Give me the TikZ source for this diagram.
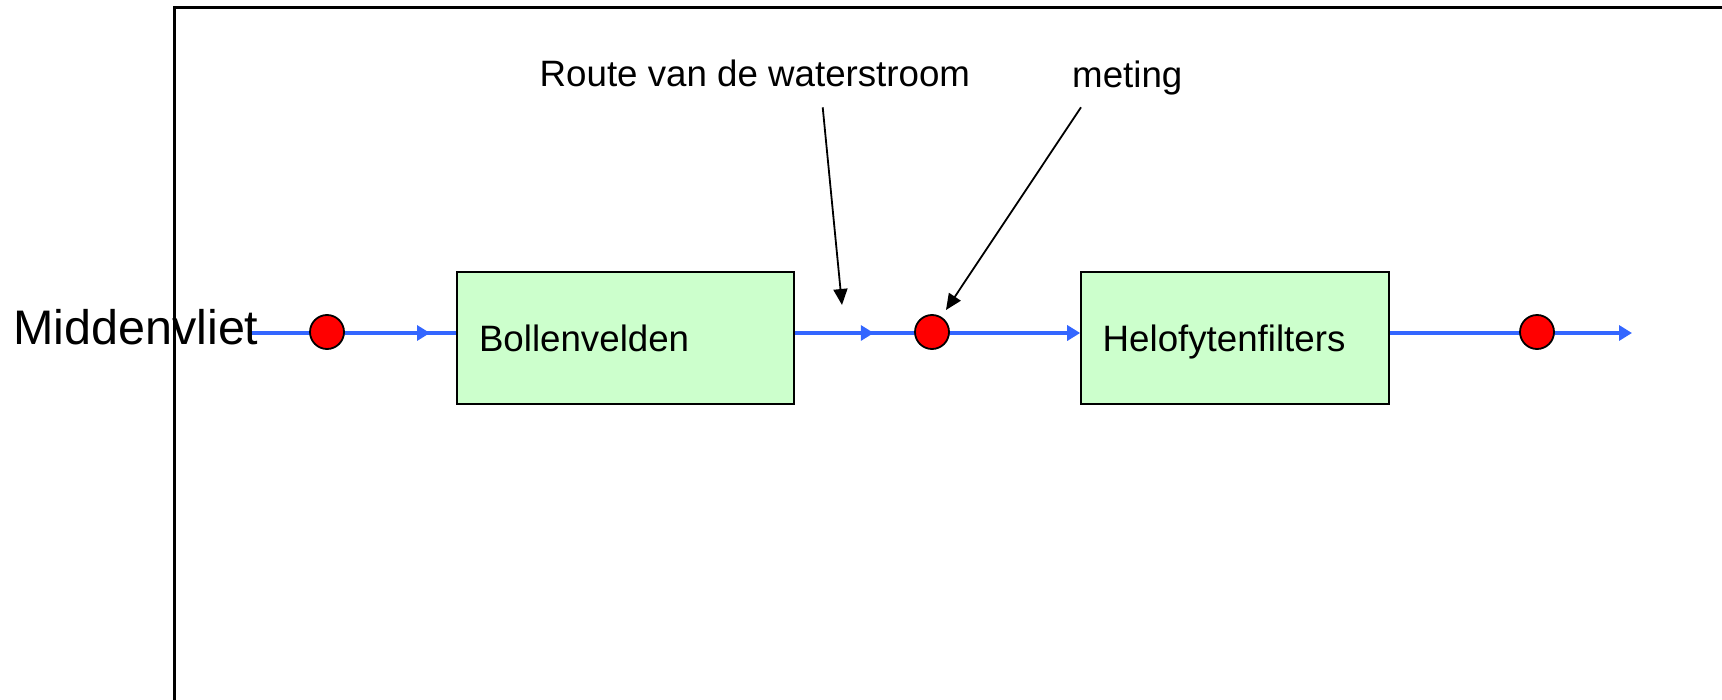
\documentclass[tikz,border=0pt]{standalone}
\usepackage{fontspec}
\setmainfont{Liberation Sans}
\usetikzlibrary{arrows.meta,decorations.markings}
\definecolor{flowblue}{RGB}{51,102,255}
\definecolor{boxgreen}{RGB}{204,255,204}
\begin{document}
\begin{tikzpicture}[x=1bp,y=-1bp,
  flow/.style={flowblue, line width=4.2bp},
  flowtip/.style={-{Triangle[length=13bp,width=15bp]}},
  midtip/.style={postaction={decorate},
    decoration={markings, mark=at position #1 with {\arrow{Triangle[length=13bp,width=15bp]}}}},
  stage/.style={draw=black, fill=boxgreen, line width=1.6bp, rectangle,
    minimum height=132bp, align=left, text height=26.5bp, text depth=0bp,
    font=\fontsize{36.7bp}{44bp}\selectfont},
  probe/.style={circle, draw=black, fill=red, line width=1.8bp,
    minimum size=34bp, inner sep=0pt},
  label/.style={anchor=base west, inner sep=0pt, font=\fontsize{36.7bp}{44bp}\selectfont},
  pointer/.style={black, line width=1.8bp, -{Triangle[length=16bp,width=14bp]}}
]
\useasboundingbox (0,0) rectangle (1722,700);

% frame: left and top edges
\draw[line width=2.2bp] (174.5,700) |- (1722,7.5);

% treatment stages
\node[stage, minimum width=337bp, inner xsep=22bp, text width=293bp] (b1) at (625.5,338) {Bollenvelden};
\node[stage, minimum width=308bp, inner xsep=21.7bp, text width=264.6bp] (b2) at (1235,338) {Helofytenfilters};

% water flow
\coordinate (src) at (250,333);
\coordinate (out) at (1632,333);
\draw[flow, midtip=180bp] (src) -- (src -| b1.west);
\draw[flow, flowtip, midtip=79bp] (src -| b1.east) -- (src -| b2.west);
\draw[flow, flowtip] (src -| b2.east) -- (out);

% source label
\node[anchor=base west, inner sep=0pt, font=\fontsize{48.5bp}{58bp}\selectfont] (mv) at (13,344) {Middenvliet};

% measuring points
\node[probe] (p1) at (327,332) {};
\node[probe] (p2) at (932,332) {};
\node[probe] (p3) at (1537,332) {};

% annotations
\node[label] (route) at (539.5,86.7) {Route van de waterstroom};
\node[label] (meting) at (1072,88) {meting};
\coordinate (r0) at (822.7,107.3);
\coordinate (r1) at (842,305);
\coordinate (m0) at (1081,107.3);
\coordinate (m1) at (946,310);
\draw[pointer] (r0) -- (r1);
\draw[pointer] (m0) -- (m1);
\end{tikzpicture}
\end{document}
